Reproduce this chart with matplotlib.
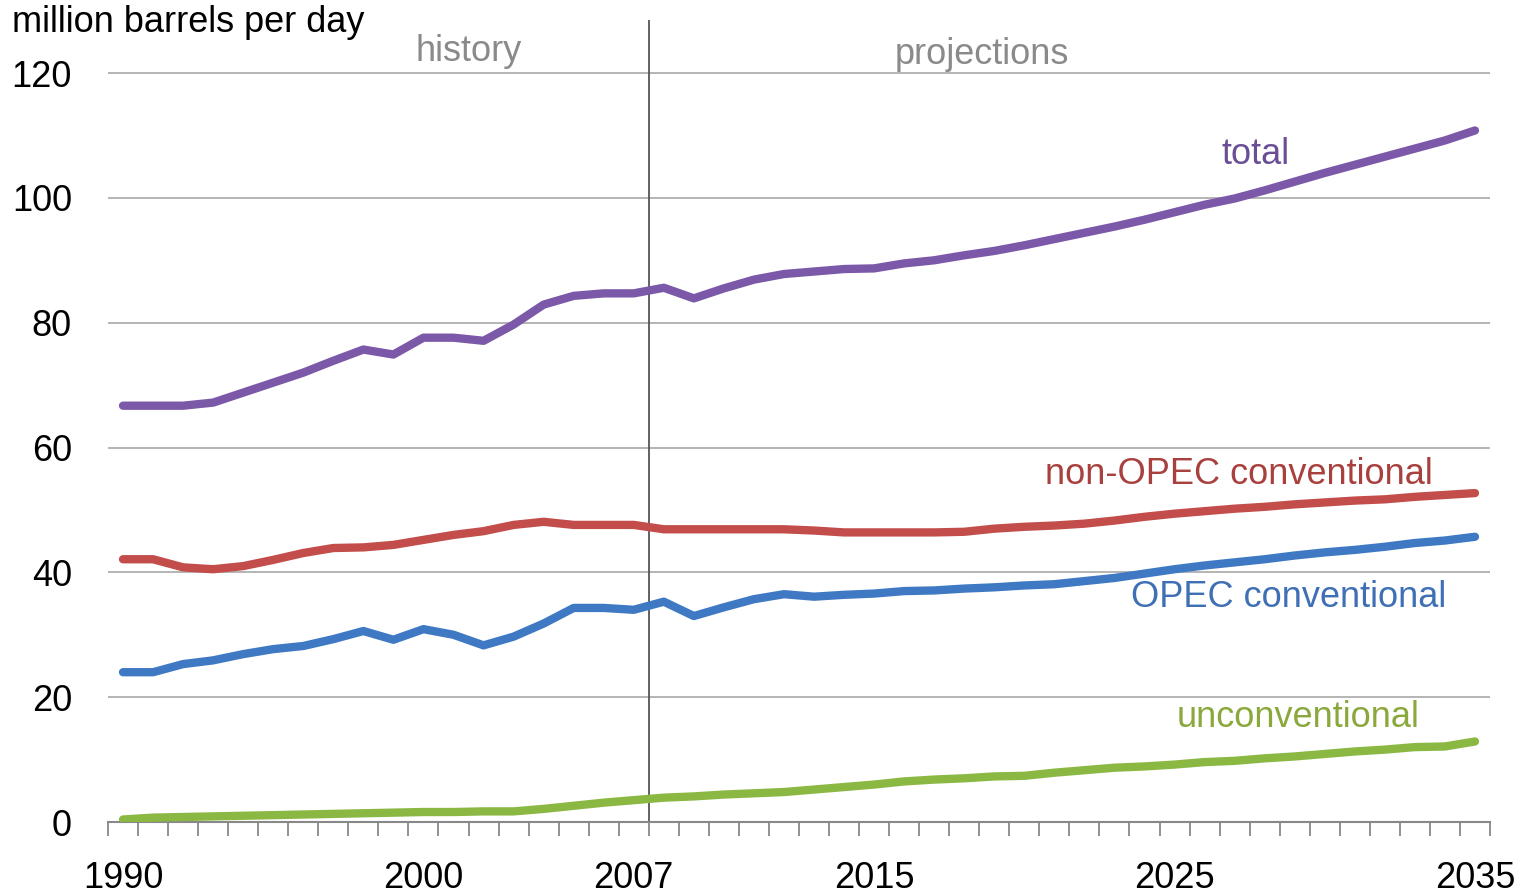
import matplotlib
matplotlib.use('Agg')
import matplotlib.pyplot as plt
import numpy as np

plt.rcParams['font.family'] = ['Liberation Sans', 'DejaVu Sans']

years = np.arange(1990, 2036)

total = [66.7, 66.7, 66.7, 67.2, 68.8, 70.4, 72.0, 73.9, 75.7, 74.9,
         77.6, 77.6, 77.1, 79.7, 82.9, 84.3, 84.7, 84.7, 85.6, 83.9,
         85.5, 86.9, 87.8, 88.2, 88.6, 88.7, 89.5, 90.0, 90.8, 91.5,
         92.4, 93.4, 94.4, 95.4, 96.5, 97.7, 98.9, 99.9, 101.2, 102.6,
         104.0, 105.3, 106.6, 107.9, 109.2, 110.8]

non_opec = [42.1, 42.1, 40.8, 40.5, 41.0, 42.0, 43.1, 43.9, 44.0, 44.4,
            45.2, 46.0, 46.6, 47.6, 48.1, 47.6, 47.6, 47.6, 46.9, 46.9,
            46.9, 46.9, 46.9, 46.7, 46.4, 46.4, 46.4, 46.4, 46.5, 47.0,
            47.3, 47.5, 47.8, 48.3, 48.9, 49.4, 49.8, 50.2, 50.5, 50.9,
            51.2, 51.5, 51.7, 52.1, 52.4, 52.7]

opec = [24.0, 24.0, 25.3, 25.9, 26.9, 27.7, 28.2, 29.3, 30.6, 29.2,
        30.9, 30.0, 28.3, 29.7, 31.8, 34.3, 34.3, 34.0, 35.3, 33.0,
        34.4, 35.7, 36.5, 36.1, 36.4, 36.6, 37.0, 37.1, 37.4, 37.6,
        37.9, 38.1, 38.6, 39.1, 39.8, 40.5, 41.1, 41.6, 42.1, 42.7,
        43.2, 43.6, 44.1, 44.7, 45.1, 45.7]

unconv = [0.4, 0.7, 0.8, 0.9, 1.0, 1.1, 1.2, 1.3, 1.4, 1.5,
          1.6, 1.6, 1.7, 1.7, 2.1, 2.6, 3.1, 3.5, 3.9, 4.1,
          4.4, 4.6, 4.8, 5.2, 5.6, 6.0, 6.5, 6.8, 7.0, 7.3,
          7.4, 7.9, 8.3, 8.7, 8.9, 9.2, 9.6, 9.8, 10.2, 10.5,
          10.9, 11.3, 11.6, 12.0, 12.1, 12.9]

tick_years = [1990, 2000, 2007, 2015, 2025, 2035]

fig = plt.figure(figsize=(15.24, 8.94), dpi=100)
ax = fig.add_axes([108/1524, 1 - 822/894, (1490 - 108)/1524, (822 - 20)/894])

# gridlines
for v in range(20, 121, 20):
    ax.axhline(v, color='#b4b4b4', lw=1.4, zorder=1)

ax.axvline(2007.5, color='#555555', lw=1.3, zorder=1)

lw = 6
ax.plot(years, total, color='#7b58a8', lw=lw, solid_capstyle='round', zorder=3)
ax.plot(years, non_opec, color='#c24d4a', lw=lw, solid_capstyle='round', zorder=3)
ax.plot(years, opec, color='#3f79c3', lw=lw, solid_capstyle='round', zorder=3)
ax.plot(years, unconv, color='#8bb842', lw=lw, solid_capstyle='round', zorder=3)

ax.set_xlim(1989.5, 2035.5)
ax.set_ylim(0, 128.5)

for s in ['top', 'right', 'left']:
    ax.spines[s].set_visible(False)
ax.spines['bottom'].set_color('#888888')
ax.spines['bottom'].set_linewidth(1.5)

fs = 26
ax.set_yticks(range(0, 121, 20))
ax.tick_params(axis='y', length=0, pad=26, labelsize=fs)
ax.set_xticks(tick_years)
ax.set_xticks(np.arange(1989.5, 2036, 1), minor=True)
ax.tick_params(axis='x', which='major', length=0, pad=28, labelsize=fs)
ax.tick_params(axis='x', which='minor', length=10, width=1.3, color='#888888')

ax.text(2001.5, 123.4, 'history', color='#8a8a8a', fontsize=fs, ha='center', va='center')
ax.text(2018.6, 122.9, 'projections', color='#8a8a8a', fontsize=fs, ha='center', va='center')
ax.text(2027.7, 106.9, 'total', color='#6a4f96', fontsize=fs, ha='center', va='center')
ax.text(2027.15, 55.6, 'non-OPEC conventional', color='#a8403d', fontsize=fs, ha='center', va='center')
ax.text(2028.8, 35.9, 'OPEC conventional', color='#3f6fb5', fontsize=fs, ha='center', va='center')
ax.text(2029.1, 16.7, 'unconventional', color='#8aa83c', fontsize=fs, ha='center', va='center')

fig.text(12/1524, 1 - 23/894, 'million barrels per day', fontsize=fs, ha='left', va='center')

fig.savefig('out.png', dpi=100)
